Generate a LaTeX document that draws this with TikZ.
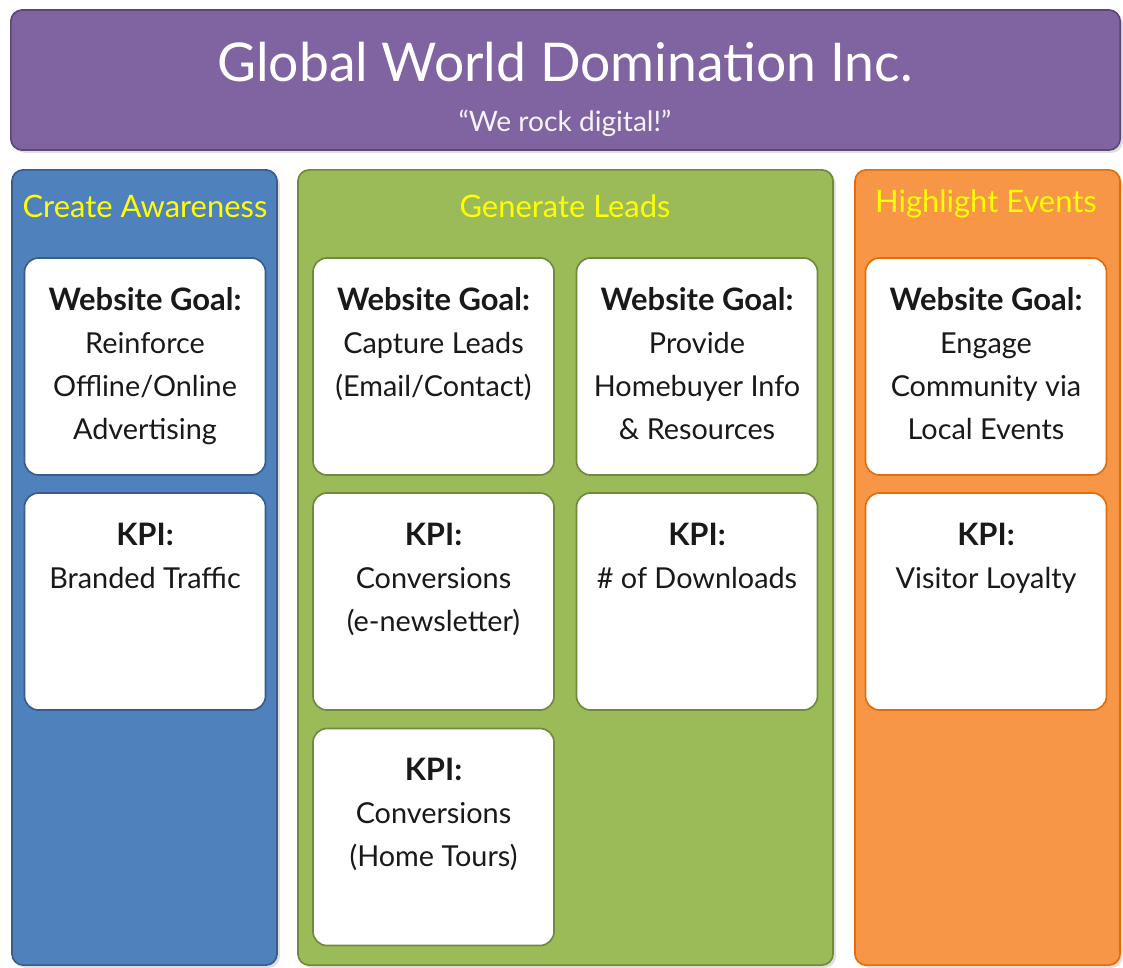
\documentclass[tikz,border=0pt]{standalone}
\usepackage{fontspec}
\setmainfont{Lato}
\usetikzlibrary{positioning, shadows}

\definecolor{bannerfill}{HTML}{8064A2}
\definecolor{bannerline}{HTML}{5C4776}
\definecolor{awarefill}{HTML}{4F81BD}
\definecolor{awareline}{HTML}{385D8A}
\definecolor{leadfill}{HTML}{9BBB59}
\definecolor{leadline}{HTML}{71893F}
\definecolor{eventfill}{HTML}{F79646}
\definecolor{eventline}{HTML}{E46C0A}
\definecolor{headyellow}{HTML}{FFFF00}

\newcommand{\cardhead}[1]{{\fontsize{22}{30.6}\selectfont\bfseries #1}}

\begin{document}
\begin{tikzpicture}[
        x=0.025cm, y=-0.025cm,
        panel/.style={rounded corners=8pt, line width=1.2pt,
            drop shadow={shadow xshift=2pt, shadow yshift=-2pt, opacity=0.25}},
        column/.style={panel, fill=#1fill, draw=#1line, minimum width=6.625cm, minimum height=19.875cm},
        card/.style={draw=#1, fill=white, rounded corners=10pt, line width=1.2pt,
            minimum width=6.025cm, minimum height=5.425cm, inner sep=0pt},
        cardtext/.style={align=center, text=black!90, inner sep=0pt,
            font=\fontsize{20.5}{30.6}\selectfont},
        heading/.style={text=headyellow, font=\fontsize{22}{25}\selectfont}
    ]
    \useasboundingbox (0,0) rectangle (1123,967);

    % Banner
    \node[panel, fill=bannerfill, draw=bannerline, minimum width=27.725cm, minimum height=3.5cm] (banner) at (565.5,80) {};
    \node[text=white, font=\fontsize{38}{40}\selectfont] (title) at (565,62) {Global World Domination Inc.};
    \node[text=white!92!bannerfill, font=\fontsize{20}{24}\selectfont] (motto) at (565,123) {“We rock digital!”};

    % Columns
    \node[column=aware] (aware) at (144.5,567.5) {};
    \node[column=lead, minimum width=13.375cm] (lead) at (565.5,567.5) {};
    \node[column=event] (event) at (987.5,567.5) {};

    \node[heading] (awarehead) at (145,206) {Create Awareness};
    \node[heading] (leadhead) at (565,206) {Generate Leads};
    \node[heading] (eventhead) at (986,204) {Highlight Events};

    % Create Awareness cards
    \node[card=awareline] (awaregoal) at (145,366.5) {};
    \node[cardtext, below=0.76cm of awaregoal.north] (awaregoaltext)
        {\cardhead{Website Goal:}\\Reinforce\\Offline/Online\\Advertising};
    \node[card=awareline] (awarekpi) at (145,601.5) {};
    \node[cardtext, below=0.76cm of awarekpi.north] (awarekpitext)
        {\cardhead{KPI:}\\Branded Traffic};

    % Generate Leads cards
    \node[card=leadline] (leadgoala) at (433.5,366.5) {};
    \node[cardtext, below=0.76cm of leadgoala.north] (leadgoalatext)
        {\cardhead{Website Goal:}\\Capture Leads\\(Email/Contact)};
    \node[card=leadline] (leadgoalb) at (697,366.5) {};
    \node[cardtext, below=0.76cm of leadgoalb.north] (leadgoalbtext)
        {\cardhead{Website Goal:}\\Provide\\Homebuyer Info\\\& Resources};
    \node[card=leadline] (leadkpia) at (433.5,601.5) {};
    \node[cardtext, below=0.76cm of leadkpia.north] (leadkpiatext)
        {\cardhead{KPI:}\\Conversions\\(e-newsletter)};
    \node[card=leadline] (leadkpib) at (697,601.5) {};
    \node[cardtext, below=0.76cm of leadkpib.north] (leadkpibtext)
        {\cardhead{KPI:}\\\# of Downloads};
    \node[card=leadline] (leadkpic) at (433.5,837) {};
    \node[cardtext, below=0.76cm of leadkpic.north] (leadkpictext)
        {\cardhead{KPI:}\\Conversions\\(Home Tours)};

    % Highlight Events cards
    \node[card=eventline] (eventgoal) at (986,366.5) {};
    \node[cardtext, below=0.76cm of eventgoal.north] (eventgoaltext)
        {\cardhead{Website Goal:}\\Engage\\Community via\\Local Events};
    \node[card=eventline] (eventkpi) at (986,601.5) {};
    \node[cardtext, below=0.76cm of eventkpi.north] (eventkpitext)
        {\cardhead{KPI:}\\Visitor Loyalty};

\end{tikzpicture}
\end{document}
